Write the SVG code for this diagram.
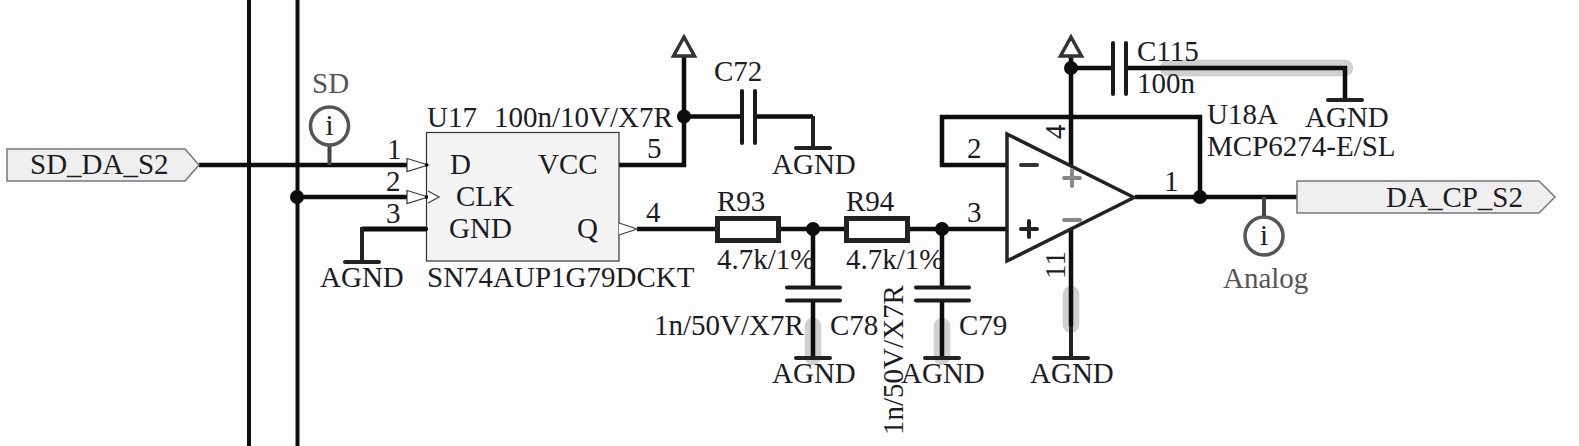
<svg xmlns="http://www.w3.org/2000/svg" width="1579" height="446" viewBox="0 0 1579 446">
<style>
text{font-family:"Liberation Serif","Times New Roman",serif;font-size:29px;fill:#1c1c24}
.g{fill:#555}
.w{fill:none;stroke:#0d0d0d;stroke-width:4.500;stroke-linejoin:miter}
.b{fill:none;stroke:#0d0d0d;stroke-width:4}
.d{fill:none;stroke:#222;stroke-width:4}
.hl{fill:none;stroke:#d0d0d0;stroke-width:16.5;stroke-linecap:round}
.plate{fill:none;stroke:#1a1a1a;stroke-width:4;stroke-linecap:round}
.j{fill:#0d0d0d}
.pin{fill:#fff;stroke:#444;stroke-width:1.3}
.port{fill:#efefef;stroke:#777;stroke-width:1.5}
.probe{fill:none;stroke:#555;stroke-width:3.5}
.stem{fill:none;stroke:#444;stroke-width:4}
.pwr{fill:#fff;stroke:#333;stroke-width:3.5;stroke-linejoin:miter}
.bar{fill:none;stroke:#222;stroke-width:4;stroke-linecap:round}
.tip{fill:none;stroke:#0d0d0d;stroke-width:3}
.res{fill:#fff;stroke:#222;stroke-width:5}
</style>
<defs>
<g id="agnd"><path class="bar" d="M-17 0H17"/></g>
<g id="vcc"><path class="pwr" d="M0 -19L-10.500 0H10.500Z"/></g>
</defs>
<rect width="1579" height="446" fill="#fdfdfd"/>
<g id="highlights">
<path class="hl" d="M813 326V357"/>
<path class="hl" d="M942 326V357"/>
<path class="hl" d="M1071 294V325"/>
<path class="hl" d="M1168 68H1345"/>
</g>
<g id="connectors">
<path class="b" d="M249 0V446"/>
<path class="b" d="M297.500 0V446"/>
<path class="w" d="M199 165H408"/>
<path class="w" d="M297 197H408"/>
<path class="w" d="M428 229H362" style="stroke-width:5"/>
<path class="d" d="M362 227V262"/>
<path class="w" d="M619 165H684V57"/>
<path class="w" d="M684 116.500H742"/>
<path class="w" d="M755 116.500H813"/>
<path class="d" d="M813 116V148"/>
<path class="w" d="M637 229H716"/>
<path class="w" d="M780 229H845"/>
<path class="w" d="M909 229H1007"/>
<path class="w" d="M813 229V287"/>
<path class="w" d="M813 300V358"/>
<path class="w" d="M942 229V287"/>
<path class="w" d="M942 300V358"/>
<path class="w" d="M1071 229V326"/>
<path class="d" d="M1071 326V358"/>
<path class="w" d="M1007 165H942V117H1200V197"/>
<path class="w" d="M1135 197H1297"/>
<path class="w" d="M1071 56V165"/>
<path class="w" d="M1071 68H1113"/>
<path class="w" d="M1126 68H1345V100"/>
<path class="stem" d="M329.500 145V165"/>
<path class="stem" d="M1264 197V217"/>
</g>
<g id="SD_DA_S2">
<path class="port" d="M7 149H185L199 165L185 181H7Z"/>
<text x="30" y="174">SD_DA_S2</text>
</g>
<g id="probe_SD">
<text class="g" x="312" y="93">SD</text>
<circle class="probe" cx="329.500" cy="126" r="19"/>
<text x="329.500" y="135" text-anchor="middle">i</text>
</g>
<g id="U17">
<rect x="426.500" y="132.500" width="192.500" height="128.500" fill="#f4f4f4" stroke="#333" stroke-width="1.200"/>
<path class="pin" d="M407 158.500L428 165L407 171.500Z"/>
<path class="pin" d="M407 190.500L428 197L407 203.500Z"/>
<path class="pin" d="M428 191L439 197L428 203" fill="none"/>
<path class="pin" d="M619 223L637 229L619 235" fill="#f4f4f4"/>
<path class="tip" d="M425 165H428M425 197H428M425 229H428"/>
<text x="427" y="127">U17</text>
<text x="494" y="127">100n/10V/X7R</text>
<text x="450" y="174">D</text>
<text x="456" y="206">CLK</text>
<text x="449" y="238">GND</text>
<text x="538" y="174">VCC</text>
<text x="577" y="238">Q</text>
<text x="387" y="159">1</text>
<text x="386" y="191">2</text>
<text x="386" y="223">3</text>
<text x="647" y="158">5</text>
<text x="646" y="222">4</text>
<text x="427" y="287">SN74AUP1G79DCKT</text>
</g>
<g id="AGND1"><use href="#agnd" x="362" y="262"/><text x="320" y="287">AGND</text></g>
<g id="VCC1"><use href="#vcc" x="684" y="56"/></g>
<g id="C72">
<path class="plate" d="M742 91V143"/><path class="plate" d="M755 91V143"/>
<text x="714" y="81">C72</text>
</g>
<g id="AGND2"><use href="#agnd" x="813" y="148"/><text x="772" y="174">AGND</text></g>
<g id="R93">
<rect class="res" x="717.500" y="218.500" width="61" height="22"/>
<text x="717" y="211">R93</text><text x="717" y="269">4.7k/1%</text>
</g>
<g id="R94">
<rect class="res" x="846.500" y="218.500" width="61" height="22"/>
<text x="846" y="211">R94</text><text x="846" y="269">4.7k/1%</text>
</g>
<g id="C78">
<path class="plate" d="M787 287.500H840"/><path class="plate" d="M787 300.500H840"/>
<text x="654" y="335">1n/50V/X7R</text><text x="830" y="335">C78</text>
</g>
<g id="C79">
<path class="plate" d="M916 287.500H969"/><path class="plate" d="M916 300.500H969"/>
<text x="959" y="335">C79</text>
<text transform="translate(903 435) rotate(-90)">1n/50V/X7R</text>
</g>
<g id="AGND3"><use href="#agnd" x="813" y="358"/><text x="772" y="383">AGND</text></g>
<g id="AGND4"><use href="#agnd" x="942" y="358"/><text x="901" y="383">AGND</text></g>
<g id="AGND5"><use href="#agnd" x="1071" y="358"/><text x="1030" y="383">AGND</text></g>
<g id="U18A">
<path d="M1007 134L1134 197.500L1007 261Z" fill="#fff" stroke="#222" stroke-width="3.500"/>
<path d="M1021 165H1037" stroke="#333" stroke-width="4" fill="none" stroke-linecap="round"/>
<path d="M1021 229H1037M1029 221V237" stroke="#222" stroke-width="4" fill="none" stroke-linecap="round"/>
<path d="M1064 178H1080M1072 170V186" stroke="#888" stroke-width="4" fill="none" stroke-linecap="round"/>
<path d="M1064 220H1080" stroke="#888" stroke-width="4" fill="none" stroke-linecap="round"/>
<text x="1207" y="124">U18A</text>
<text x="1207" y="156">MCP6274-E/SL</text>
<text x="967" y="158">2</text><text x="967" y="222">3</text><text x="1164" y="191">1</text>
<text transform="translate(1065 139) rotate(-90)">4</text>
<text transform="translate(1065 279) rotate(-90)">11</text>
</g>
<g id="VCC2"><use href="#vcc" x="1071" y="56"/></g>
<g id="C115">
<path class="plate" d="M1113 43V94"/><path class="plate" d="M1126 43V94"/>
<text x="1137" y="61">C115</text><text x="1137" y="93">100n</text>
</g>
<g id="AGND6"><use href="#agnd" x="1345" y="100"/><text x="1305" y="127">AGND</text></g>
<g id="DA_CP_S2">
<path class="port" d="M1297 181H1539L1555 197L1539 213H1297Z"/>
<text x="1386" y="207">DA_CP_S2</text>
</g>
<g id="probe_Analog">
<circle class="probe" cx="1264" cy="236" r="19"/>
<text x="1264" y="245" text-anchor="middle">i</text>
<text class="g" x="1223" y="288">Analog</text>
</g>
<g id="junctions">
<circle class="j" cx="297" cy="197" r="7"/>
<circle class="j" cx="684" cy="116.500" r="7"/>
<circle class="j" cx="813" cy="229" r="7"/>
<circle class="j" cx="942" cy="229" r="7"/>
<circle class="j" cx="1071" cy="68" r="7"/>
<circle class="j" cx="1200" cy="197" r="7"/>
</g>
</svg>
